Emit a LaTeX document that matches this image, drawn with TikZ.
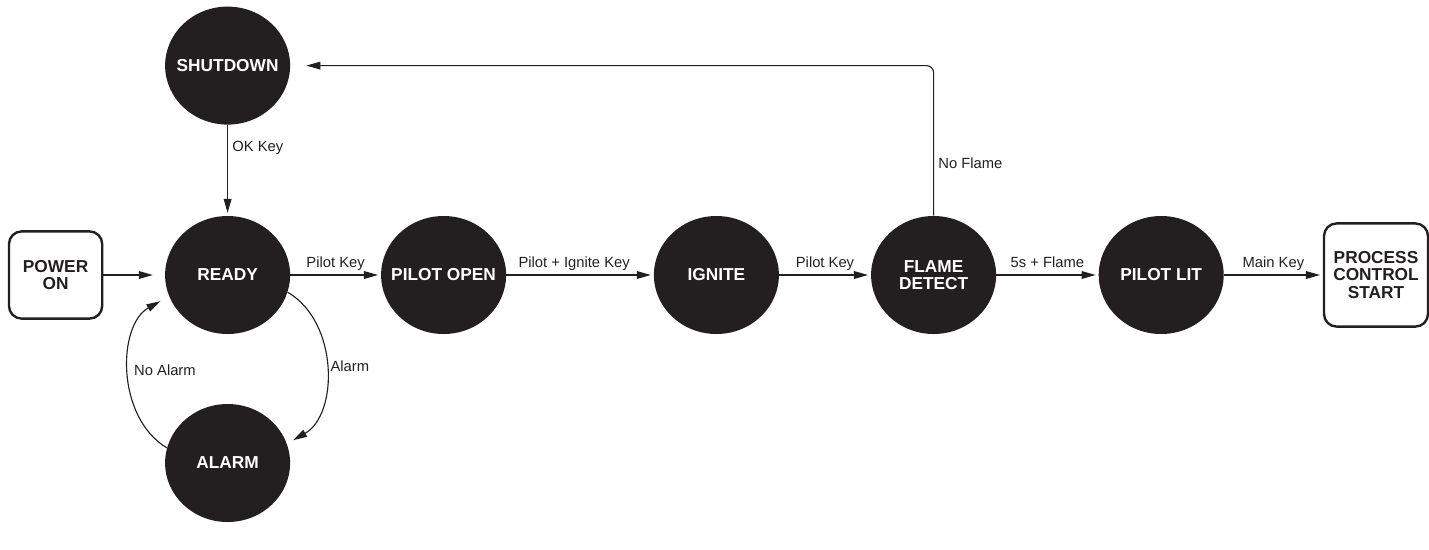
\documentclass[tikz,border=0pt]{standalone}
\usepackage{fontspec}
\setmainfont{Liberation Sans}
\usetikzlibrary{positioning, arrows.meta, calc, shapes.geometric}
\definecolor{ink}{HTML}{231F20}

\begin{document}
\begin{tikzpicture}[
    >={Triangle[length=10pt, width=5.5pt]},
    state/.style={
        ellipse, fill=ink, text=white,
        minimum width=3.125cm, minimum height=2.95cm, inner sep=-12pt,
        font=\fontsize{12.3}{12.5}\selectfont\bfseries, align=center
    },
    term/.style={
        draw=ink, line width=1.7pt, rounded corners=9pt, text=ink,
        font=\fontsize{12.3}{12.5}\selectfont\bfseries, align=center, inner sep=2pt
    },
    arr/.style={->, draw=ink, line width=0.8pt, shorten >=2pt},
    lbl/.style={font=\fontsize{10.5}{10.5}\selectfont, text=ink, inner sep=3pt, text depth=2.2pt}
]
    \useasboundingbox (0, 0) rectangle (35.725, -13.725);

    \node[term, minimum width=2.33cm, minimum height=2.18cm] (power) at (1.39, -6.875) {POWER\\ON};
    \node[state] (shutdown) at (5.69, -1.64) {SHUTDOWN};
    \node[state] (ready) at (5.69, -6.875) {READY};
    \node[state] (alarm) at (5.69, -11.575) {ALARM};
    \node[state] (pilotopen) at (11.09, -6.875) {PILOT OPEN};
    \node[state] (ignite) at (17.91, -6.875) {IGNITE};
    \node[state] (flame) at (23.34, -6.875) {FLAME\\DETECT};
    \node[state] (pilotlit) at (29.03, -6.875) {PILOT LIT};
    \node[term, minimum width=2.6cm, minimum height=2.58cm] (process) at (34.4, -6.875) {PROCESS\\CONTROL\\START};

    \draw[arr, shorten >=0.3cm] (power) -- (ready);
    \draw[arr] (shutdown) -- node[lbl, right, pos=0.25] {OK Key} (ready);
    \draw[arr] (ready) -- node[lbl, above] {Pilot Key} (pilotopen);
    \draw[arr] (pilotopen) -- node[lbl, above, pos=0.46] {Pilot + Ignite Key} (ignite);
    \draw[arr] (ignite) -- node[lbl, above] {Pilot Key} (flame);
    \draw[arr] (flame) -- node[lbl, above] {5s + Flame} (pilotlit);
    \draw[arr] (pilotlit) -- node[lbl, above] {Main Key} (process);

    \draw[arr, rounded corners=5pt, shorten >=0.4cm] (flame.north) |- node[lbl, right, pos=0.17] {No Flame} (shutdown.east);

    \draw[arr, shorten >=5pt] (ready.-16) to[bend left=60] node[lbl, right] {Alarm} (alarm.18);
    \draw[arr, shorten >=7pt] (alarm.166) to[bend left=60] node[lbl, right] {No Alarm} (ready.200);
\end{tikzpicture}
\end{document}
